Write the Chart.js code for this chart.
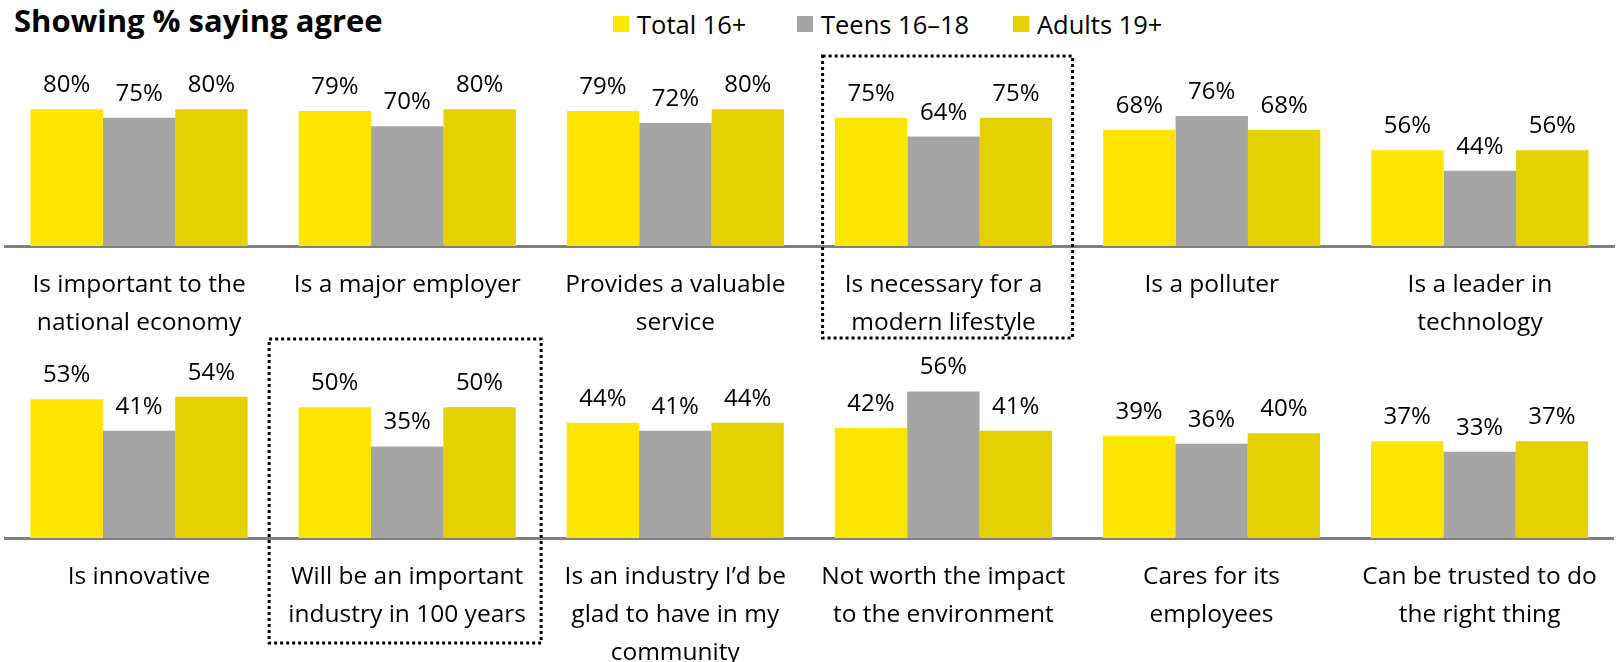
<!DOCTYPE html>
<html>
<head>
<meta charset="utf-8">
<script src="https://cdn.jsdelivr.net/npm/chart.js@4.4.1/dist/chart.umd.min.js"></script>
<style>
body { margin: 0; width: 1617px; height: 662px; overflow: hidden; background: #fff; position: relative; font-family: 'Open Sans', sans-serif; color: #000; }
#title { position: absolute; left: 14px; top: -1px; font-weight: bold; font-size: 31px; }
.legend-item { position: absolute; top: 7px; font-size: 25.5px; display: flex; align-items: center; white-space: nowrap; }
.legend-box { width: 16px; height: 16px; margin-right: 8px; }
.row { position: absolute; left: 0; width: 1617px; }
#row1 { top: 0; height: 346px; }
#row2 { top: 330px; height: 332px; }
</style>
</head>
<body>
<div id="title">Showing % saying agree</div>
<div id="legend"></div>
<div class="row" id="row1"><canvas id="chart_top"></canvas></div>
<div class="row" id="row2"><canvas id="chart_bottom"></canvas></div>
<script>
'use strict';

const series_names = ["Total 16+", "Teens 16\u201318", "Adults 19+"];
const series_colors = ["#FFE600", "#A5A5A5", "#E5D100"];

const categories_top = [
    ["Is important to the", "national economy"],
    ["Is a major employer"],
    ["Provides a valuable", "service"],
    ["Is necessary for a", "modern lifestyle"],
    ["Is a polluter"],
    ["Is a leader in", "technology"]
];
const total_top  = [80, 79, 79, 75, 68, 56];
const teens_top  = [75, 70, 72, 64, 76, 44];
const adults_top = [80, 80, 80, 75, 68, 56];

const categories_bottom = [
    ["Is innovative"],
    ["Will be an important", "industry in 100 years"],
    ["Is an industry I\u2019d be", "glad to have in my", "community"],
    ["Not worth the impact", "to the environment"],
    ["Cares for its", "employees"],
    ["Can be trusted to do", "the right thing"]
];
const total_bottom  = [53, 50, 44, 42, 39, 37];
const teens_bottom  = [41, 35, 41, 56, 36, 33];
const adults_bottom = [54, 50, 44, 41, 40, 37];

// legend (html, positions tuned to the picture)
const legend_left = [613, 797, 1013];
const legend = document.querySelector("#legend");
series_names.forEach((name, i) => {
    const item = document.createElement("div");
    item.className = "legend-item";
    item.style.left = legend_left[i] + "px";
    item.innerHTML = `<span class="legend-box" style="background:${series_colors[i]}"></span>${name}`;
    legend.appendChild(item);
});

// value labels above each bar
const value_labels = {
    id: "value_labels",
    afterDatasetsDraw(chart) {
        const ctx = chart.ctx;
        ctx.save();
        ctx.font = "24px 'Open Sans'";
        ctx.fillStyle = "#000";
        ctx.textAlign = "center";
        ctx.textBaseline = "alphabetic";
        chart.data.datasets.forEach((ds, di) => {
            chart.getDatasetMeta(di).data.forEach((bar, i) => {
                ctx.fillText(ds.data[i] + "%", bar.x, bar.y - 17);
            });
        });
        ctx.restore();
    }
};

// dotted box around a highlighted category
const highlight_box = {
    id: "highlight_box",
    afterDraw(chart, args, opts) {
        if (opts.index == null) return;
        const cx = chart.scales.x.getPixelForValue(opts.index) + opts.shift;
        const ctx = chart.ctx;
        ctx.save();
        ctx.strokeStyle = "#000";
        ctx.lineWidth = 3;
        ctx.setLineDash([3, 3]);
        ctx.strokeRect(cx - opts.half_width, opts.top, opts.half_width * 2, opts.bottom - opts.top);
        ctx.restore();
    }
};

const make_chart = (canvas_id, categories, values, y_max, pad_top, axis_height, box) => {
    return new Chart(document.querySelector(canvas_id), {
        type: "bar",
        data: {
            labels: categories,
            datasets: values.map((vals, i) => ({
                label: series_names[i],
                data: vals,
                backgroundColor: series_colors[i],
                borderWidth: 0,
                categoryPercentage: 0.81,
                barPercentage: 1.0
            }))
        },
        options: {
            responsive: true,
            maintainAspectRatio: false,
            animation: false,
            layout: { padding: { top: pad_top, left: 5, right: 3, bottom: 0 } },
            plugins: {
                legend: { display: false },
                tooltip: { enabled: false },
                highlight_box: box
            },
            scales: {
                x: {
                    grid: { display: false, drawTicks: false },
                    border: { display: true, color: "#808080", width: 3 },
                    ticks: {
                        color: "#000",
                        font: { family: "'Open Sans'", size: 24.5, lineHeight: 1.55 },
                        padding: 20,
                        maxRotation: 0,
                        autoSkip: false
                    },
                    afterFit: scale => { scale.height = axis_height; }
                },
                y: { display: false, min: 0, max: y_max }
            }
        },
        plugins: [value_labels, highlight_box]
    });
};

make_chart("#chart_top", categories_top, [total_top, teens_top, adults_top],
    100, 75, 100, { index: 3, shift: 4, half_width: 125, top: 56, bottom: 338 });
make_chart("#chart_bottom", categories_bottom, [total_bottom, teens_bottom, adults_bottom],
    60, 51, 124, { index: 1, shift: -2, half_width: 136, top: 9, bottom: 313 });
</script>
</body>
</html>
